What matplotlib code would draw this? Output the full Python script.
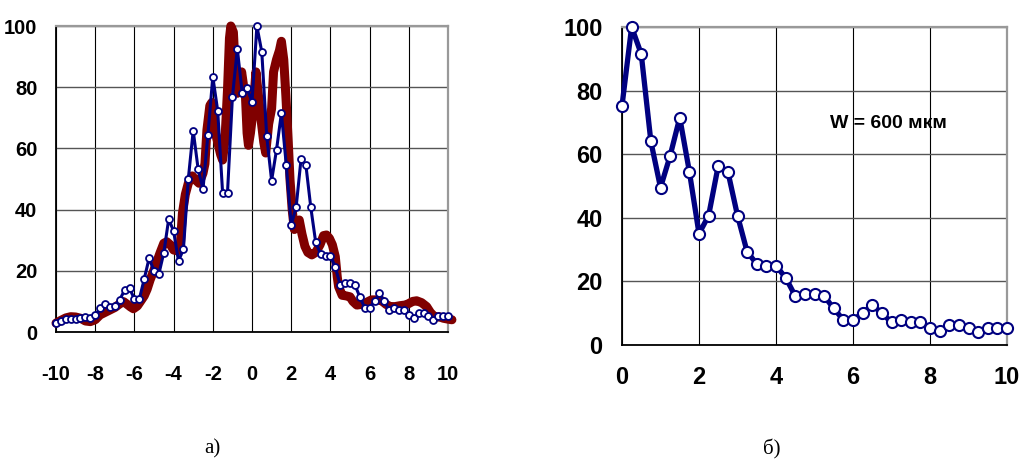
import matplotlib
matplotlib.use("Agg")
import matplotlib.pyplot as plt

plt.rcParams["axes.unicode_minus"] = False

# blue profile, left part (x = -10 ... -0.25, step 0.25)
x_neg = [-10, -9.75, -9.5, -9.25, -9, -8.75, -8.5, -8.25, -8, -7.75,
         -7.5, -7.25, -7, -6.75, -6.5, -6.25, -6, -5.75, -5.5, -5.25,
         -5, -4.75, -4.5, -4.25, -4, -3.75, -3.5, -3.25, -3, -2.75,
         -2.5, -2.25, -2, -1.75, -1.5, -1.25, -1, -0.75, -0.5, -0.25]
blue_neg = [3.0, 3.6, 4.2, 4.2, 4.3, 4.5, 5.0, 4.5, 5.5, 7.7,
            9.2, 8.1, 8.5, 10.5, 13.7, 14.3, 10.8, 10.7, 17.3, 24.1,
            20.0, 19.0, 25.9, 36.9, 33.0, 23.2, 27.0, 50.0, 65.8, 53.3,
            46.7, 64.4, 83.4, 72.3, 45.5, 45.5, 76.7, 92.5, 78.2, 79.6]

# blue profile, right part (x = 0 ... 10, step 0.25), also plot б)
x_pos = [0, 0.25, 0.5, 0.75, 1, 1.25, 1.5, 1.75, 2, 2.25,
         2.5, 2.75, 3, 3.25, 3.5, 3.75, 4, 4.25, 4.5, 4.75,
         5, 5.25, 5.5, 5.75, 6, 6.25, 6.5, 6.75, 7, 7.25,
         7.5, 7.75, 8, 8.25, 8.5, 8.75, 9, 9.25, 9.5, 9.75, 10]
blue_pos = [75.2, 100, 91.5, 64, 49.5, 59.5, 71.5, 54.5, 35, 40.7,
            56.4, 54.5, 40.7, 29.3, 25.5, 24.8, 24.9, 21.2, 15.4, 16,
            16, 15.4, 11.5, 7.9, 7.9, 10, 12.6, 10, 7.1, 7.9,
            7.3, 7.3, 5.4, 4.5, 6.3, 6.3, 5.2, 4.0, 5.2, 5.2, 5.2]

# red profile (plot а)
x_red = [-10, -9.75, -9.5, -9.25, -9, -8.75, -8.5, -8.25, -8, -7.75,
         -7.5, -7.25, -7, -6.75, -6.55, -6.4, -6.2, -6.05, -5.85, -5.7,
         -5.5, -5.35, -5.2, -5, -4.85, -4.7, -4.5, -4.35, -4.15, -4,
         -3.8, -3.65, -3.55, -3.4, -3.25, -3.05, -2.85, -2.7, -2.5, -2.4,
         -2.3, -2.15, -2.05, -1.9, -1.75, -1.6, -1.5, -1.38, -1.25, -1.15,
         -1.08, -0.95, -0.87, -0.75, -0.62, -0.53, -0.42, -0.33, -0.25, -0.18,
         -0.08, 0.05, 0.2, 0.3, 0.45, 0.6, 0.7, 0.85, 1, 1.1,
         1.25, 1.4, 1.5, 1.62, 1.73, 1.85, 1.94, 2.05, 2.16, 2.3,
         2.41, 2.55, 2.7, 2.85, 3.05, 3.25, 3.47, 3.65, 3.8, 3.95,
         4.1, 4.25, 4.35, 4.42, 4.6, 4.8, 5, 5.15, 5.35, 5.55,
         5.75, 6.1, 6.4, 6.62, 6.85, 7.05, 7.3, 7.55, 7.8, 7.97,
         8.2, 8.4, 8.65, 8.91, 9.1, 9.34, 9.55, 9.76, 10, 10.2]
red = [2.9, 3.8, 4.6, 5.0, 4.9, 4.5, 3.6, 3.4, 4.0, 5.6,
       6.4, 7.2, 8.0, 9.2, 9.9, 9.2, 8.2, 7.6, 8.5, 9.9,
       11.8, 14.0, 17.0, 20.3, 23.0, 25.7, 29.0, 29.5, 28.4, 26.8,
       26.5, 29.0, 38.8, 45.0, 48.6, 51.0, 49.5, 48.6, 51.9, 55.0,
       66.0, 74.0, 75.0, 66.0, 62.0, 58.0, 56.2, 62.7, 79.0, 96.0,
       100, 98, 88, 78, 80, 85, 80, 76.5, 65, 61,
       65, 72, 85, 79, 70, 62, 58.5, 68, 73, 85,
       89, 92, 95, 89, 77, 62, 49.7, 40, 33.5, 35.5,
       36.6, 32, 28, 26, 25.2, 26, 28.5, 31.5, 31.7, 30.6,
       28.5, 24.6, 18, 14.8, 12, 11.8, 11.5, 10, 8.8, 9,
       9.4, 10.5, 10.5, 10.2, 9, 8.3, 8.3, 8.6, 8.8, 9.2,
       10, 10.2, 9.6, 8.3, 6.4, 4.8, 5, 4.5, 4.2, 4.0]

blue = "#000080"
maroon = "#800000"
tick_font = ["Liberation Sans Narrow", "Liberation Sans", "DejaVu Sans"]

fig = plt.figure(figsize=(10.21, 4.59), dpi=100)


def style_axes(ax, xpad, ypad, size):
    ax.set_ylim(0, 100)
    ax.set_yticks([0, 20, 40, 60, 80, 100])
    ax.xaxis.grid(True, color="black", lw=0.8)
    ax.yaxis.grid(True, color="#555555", lw=1.0)
    ax.set_axisbelow(True)
    for s in ["left", "bottom"]:
        ax.spines[s].set_color("black")
        ax.spines[s].set_linewidth(1.3)
    for s in ["top", "right"]:
        ax.spines[s].set_color("#999999")
        ax.spines[s].set_linewidth(1.6)
    ax.tick_params(axis="x", length=0, pad=xpad)
    ax.tick_params(axis="y", length=0, pad=ypad)
    for lab in ax.get_xticklabels() + ax.get_yticklabels():
        lab.set_family(tick_font)
        lab.set_fontweight("bold")
        lab.set_fontsize(size)


# а)
ax1 = fig.add_axes([56 / 1021, 1 - 332 / 459, 392 / 1021, 306 / 459])
ax1.plot(x_red, red, color=maroon, lw=6.5, solid_capstyle="round",
         solid_joinstyle="round", clip_on=False, zorder=3)
ax1.plot(x_neg + x_pos, blue_neg + blue_pos, color=blue, lw=2.2,
         marker="o", ms=5, mfc="white", mec=blue, mew=1.3,
         clip_on=False, zorder=4)
ax1.set_xlim(-10, 10)
ax1.set_xticks([-10, -8, -6, -4, -2, 0, 2, 4, 6, 8, 10])
style_axes(ax1, 24, 13.5, 14.5)

# б)
ax2 = fig.add_axes([622 / 1021, 1 - 345 / 459, 385 / 1021, 318 / 459])
ax2.plot(x_pos, blue_pos, color=blue, lw=3.8, marker="o", ms=8,
         mfc="white", mec=blue, mew=1.5, clip_on=False, zorder=4)
ax2.set_xlim(0, 10)
ax2.set_xticks([0, 2, 4, 6, 8, 10])
style_axes(ax2, 15, 14, 17)
ax2.text(6.93, 69.8, "W = 600 мкм", ha="center", va="center",
         family=tick_font, fontweight="bold", fontsize=14)

fig.text(212 / 1021, 1 - 449 / 459, "а)", ha="center", va="center",
         family=["Liberation Serif", "DejaVu Serif"], fontsize=15)
fig.text(772 / 1021, 1 - 449 / 459, "б)", ha="center", va="center",
         family=["Liberation Serif", "DejaVu Serif"], fontsize=15)

fig.savefig("out.png", dpi=100)
